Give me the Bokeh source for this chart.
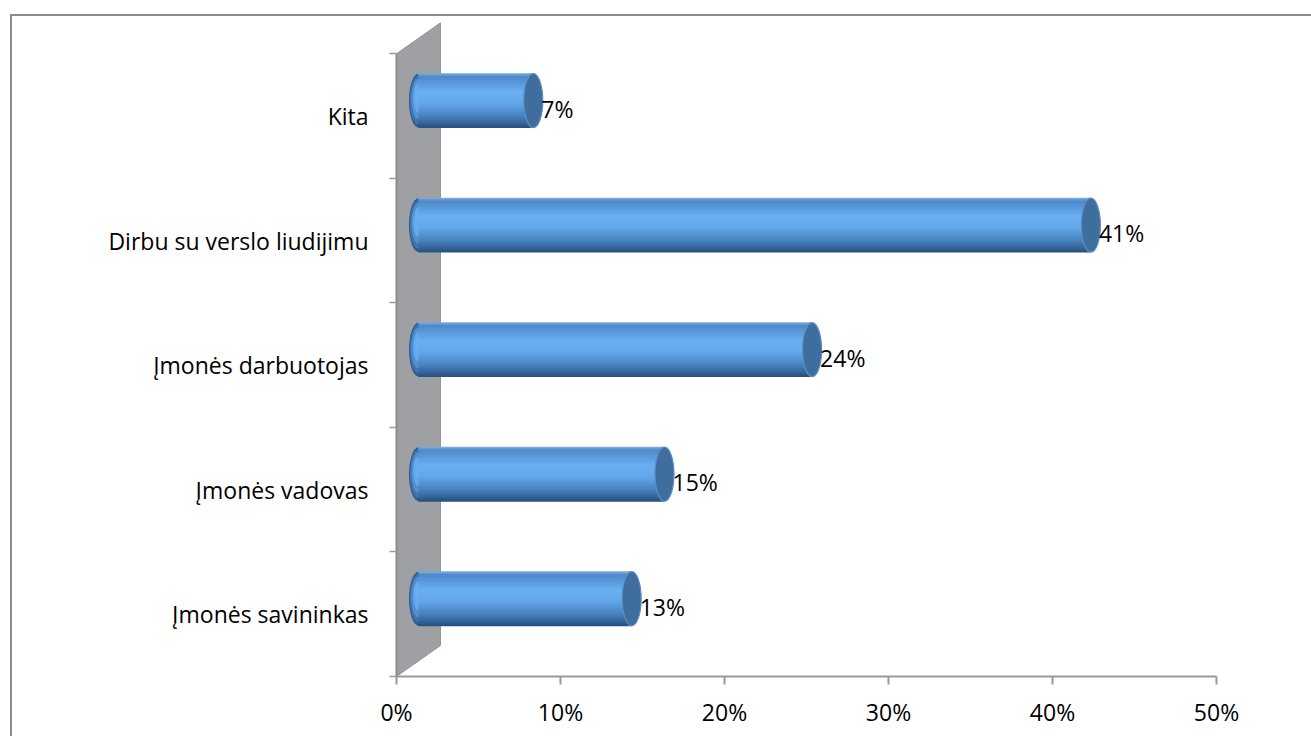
from bokeh.plotting import figure
from bokeh.models import FixedTicker, ColumnDataSource
from bokeh.layouts import column
from bokeh.core.properties import value
from bokeh.embed import file_html
from bokeh.resources import INLINE

# ---- data ----
categories = ["Įmonės savininkas", "Įmonės vadovas", "Įmonės darbuotojas",
              "Dirbu su verslo liudijimu", "Kita"]
values = [13, 15, 24, 41, 7]
x_ticks = [0, 10, 20, 30, 40, 50]
x_tick_labels = ["0%", "10%", "20%", "30%", "40%", "50%"]

FONT = "Open Sans"
FS = "23px"

# 3D depth offsets (style constants, in data units)
DX = 2.68      # depth offset along x (%)
DY = 0.249     # depth offset along y (category units)
H = 0.434      # bar thickness
CAP_W = 1.16   # end ellipse width

p = figure(frame_width=820, frame_height=660,
           min_border_left=384, min_border_right=95,
           min_border_top=0, min_border_bottom=60,
           x_range=(0, 50), y_range=(0, 5.3),
           output_backend="svg", toolbar_location=None,
           background_fill_color="white", border_fill_color="white")
p.outline_line_color = None
p.grid.visible = False

# back wall
p.patch([0, 0, DX, DX], [0, len(categories), len(categories) + DY, DY],
        fill_color="#9fa0a3", line_color="#909194", line_width=1)

ys = [i + 0.5 + DY / 2 for i in range(len(categories))]
right = [v + DX / 2 for v in values]
left = [DX / 2] * len(values)
src = ColumnDataSource(dict(y=ys, right=right, left=left,
                            lab=[f"{v}%" for v in values]))

# cylinder shading profile (top -> bottom)
stops = [(0.0, (0x86, 0xb0, 0xdc)), (0.06, (0x4e, 0x8a, 0xca)),
         (0.35, (0x6a, 0xb0, 0xf2)), (0.55, (0x64, 0xa8, 0xea)),
         (0.78, (0x4a, 0x84, 0xc2)), (0.92, (0x35, 0x66, 0x9c)),
         (1.0, (0x2a, 0x50, 0x7c))]


def shade(t):
    for (t0, c0), (t1, c1) in zip(stops[:-1], stops[1:]):
        if t0 <= t <= t1:
            u = (t - t0) / (t1 - t0)
            return "#%02x%02x%02x" % tuple(int(a + (b - a) * u) for a, b in zip(c0, c1))
    return "#%02x%02x%02x" % stops[-1][1]


# left rounded ends (nested ellipses)
for f, t in [(1.0, 0.95), (0.9, 0.85), (0.75, 0.7), (0.55, 0.5), (0.35, 0.4)]:
    p.ellipse(x=left, y=[y + (1 - f) * H * 0.12 for y in ys], width=CAP_W * f,
              height=H * f, fill_color=shade(t), line_color=None)

# cylinder bodies as thin shaded stripes
N = 40
for k in range(N):
    t = (k + 0.5) / N
    p.hbar(y=[y + H / 2 - (k + 0.5) * H / N for y in ys], left=left, right=right,
           height=H / N * 1.6, fill_color=shade(t), line_color=None)

# right caps
p.ellipse(x="right", y="y", width=CAP_W, height=H, source=src,
          fill_color="#3e6d9e", line_color="#5a8ec4", line_width=1.2)

# data labels
p.text(x="right", y="y", text="lab", source=src, x_offset=8, y_offset=8,
       text_font=value(FONT), text_font_size=FS, text_color="black",
       text_align="left", text_baseline="middle")

# x axis
xa = p.xaxis[0]
xa.ticker = FixedTicker(ticks=x_ticks)
xa.major_label_overrides = {t: l for t, l in zip(x_ticks, x_tick_labels)}
xa.bounds = (0, 50)
xa.axis_line_color = "#9a9a9a"
xa.axis_line_width = 2
xa.major_tick_line_color = "#9a9a9a"
xa.major_tick_line_width = 2
xa.major_tick_in = 0
xa.major_tick_out = 8
xa.minor_tick_line_color = None
xa.major_label_standoff = 11
xa.major_label_text_font = FONT
xa.major_label_text_font_size = FS
xa.major_label_text_color = "black"

# y axis
ya = p.yaxis[0]
ya.ticker = FixedTicker(ticks=[i + 0.5 for i in range(len(categories))],
                        minor_ticks=list(range(len(categories) + 1)))
ya.major_label_overrides = {i + 0.5: c for i, c in enumerate(categories)}
ya.bounds = (0, len(categories))
ya.axis_line_color = "#8c8c8c"
ya.axis_line_width = 2
ya.major_tick_line_color = None
ya.major_tick_in = 0
ya.major_tick_out = 0
ya.minor_tick_line_color = "#9a9a9a"
ya.minor_tick_line_width = 1.5
ya.minor_tick_in = 0
ya.minor_tick_out = 7
ya.major_label_standoff = 21
ya.major_label_text_font = FONT
ya.major_label_text_font_size = FS
ya.major_label_text_color = "black"

layout = column(p, styles={"margin-left": "10px", "margin-top": "14px",
                           "border-left": "2px solid #8c8c8c",
                           "border-top": "2px solid #8c8c8c"})

open("out.html", "w").write(file_html(layout, INLINE))
